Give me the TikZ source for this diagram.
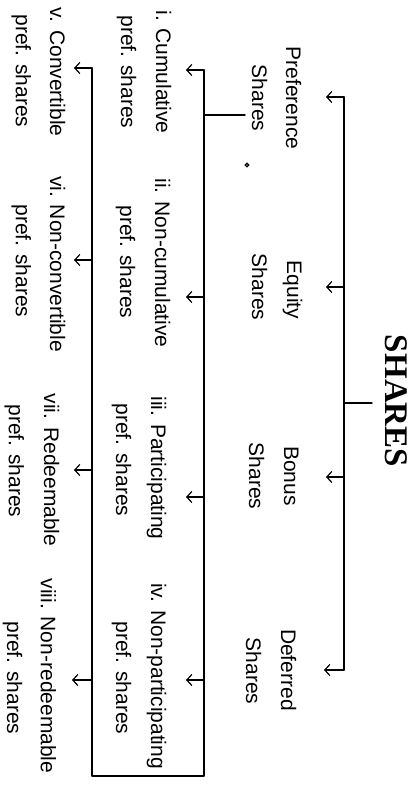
\documentclass[tikz,border=0pt]{standalone}
\usepackage{fontspec}
\setmainfont{Liberation Sans}
\newfontfamily\titlefont{Liberation Serif}
\usetikzlibrary{arrows.meta}
\begin{document}
\begin{tikzpicture}[x=1pt,y=-1pt,
  lab/.style={rotate=-90, anchor=base, inner sep=0pt, font=\fontsize{21}{25}\selectfont},
  ttl/.style={rotate=-90, anchor=base, inner sep=0pt, font=\titlefont\bfseries\fontsize{33}{36}\selectfont},
  conn/.style={line width=1.4pt, line cap=round, line join=round},
  arr/.style={conn, -{Straight Barb[length=5pt,width=11pt,line width=1.2pt]}}]
\useasboundingbox[fill=white] (0,0) rectangle (418,788);

% title
\node[ttl] (shares) at (385,401) {SHARES};

% top-level labels
\node[lab] (pref1) at (286,98) {Preference};
\node[lab] (pref2) at (252,98) {Shares};
\node[lab] (eq1) at (287,290) {Equity};
\node[lab] (eq2) at (252,287) {Shares};
\node[lab] (bon1) at (284,476) {Bonus};
\node[lab] (bon2) at (249,476) {Shares};
\node[lab] (def1) at (281,670) {Deferred};
\node[lab] (def2) at (246,671) {Shares};

% sub labels, right column
\node[lab] (c1a) at (156,72) {i. Cumulative};
\node[lab] (c1b) at (121,72) {pref. shares};
\node[lab] (c2a) at (155,263) {ii. Non-cumulative};
\node[lab] (c2b) at (120,262) {pref. shares};
\node[lab] (c3a) at (151,468) {iii. Participating};
\node[lab] (c3b) at (116,460) {pref. shares};
\node[lab] (c4a) at (151,676) {iv. Non-participating};
\node[lab] (c4b) at (116,678) {pref. shares};

% sub labels, left column
\node[lab] (c5a) at (50,72) {v. Convertible};
\node[lab] (c5b) at (16,71) {pref. shares};
\node[lab] (c6a) at (50,264) {vi. Non-convertible};
\node[lab] (c6b) at (16,261) {pref. shares};
\node[lab] (c7a) at (44,470) {vii. Redeemable};
\node[lab] (c7b) at (9,461) {pref. shares};
\node[lab] (c8a) at (41,676) {viii. Non-redeemable};
\node[lab] (c8b) at (7,678) {pref. shares};

% main tree coordinates
\coordinate (s0) at (372,403);
\coordinate (s1) at (344,403);
\coordinate (m1) at (344,97);
\coordinate (m2) at (344,287);
\coordinate (m3) at (344,477);
\coordinate (m4) at (344,670);
\coordinate (t1) at (326,97);
\coordinate (t2) at (326,287);
\coordinate (t3) at (326,477);
\coordinate (t4) at (324,670);

\draw[conn] (s0) -- (s1);
\draw[conn] (m1) -- (m4);
\draw[arr] (m1) -- (t1);
\draw[arr] (m2) -- (t2);
\draw[arr] (m3) -- (t3);
\draw[arr] (m4) -- (t4);

% preference sub tree
\coordinate (p0) at (245,115);
\coordinate (p1) at (204,115);
\coordinate (r1) at (204,70);
\coordinate (r2) at (204,297);
\coordinate (r3) at (204,497);
\coordinate (r4) at (204,680);
\coordinate (rb) at (204,776);
\coordinate (lb) at (92,776);
\coordinate (l1) at (92,68);
\coordinate (l2) at (92,260);
\coordinate (l3) at (92,470);
\coordinate (l4) at (92,680);
\coordinate (a1) at (186,70);
\coordinate (a2) at (186,297);
\coordinate (a3) at (186,497);
\coordinate (a4) at (186,680);
\coordinate (b1) at (74,68);
\coordinate (b2) at (74,260);
\coordinate (b3) at (74,470);
\coordinate (b4) at (72,680);

\draw[conn] (p0) -- (p1);
\draw[conn] (r1) -- (rb) -- (lb) -- (l1);
\draw[arr] (r1) -- (a1);
\draw[arr] (r2) -- (a2);
\draw[arr] (r3) -- (a3);
\draw[arr] (r4) -- (a4);
\draw[arr] (l1) -- (b1);
\draw[arr] (l2) -- (b2);
\draw[arr] (l3) -- (b3);
\draw[arr] (l4) -- (b4);

% scan speck
\draw[line width=1.2pt] (247,165) circle (1.8pt);
\end{tikzpicture}
\end{document}
